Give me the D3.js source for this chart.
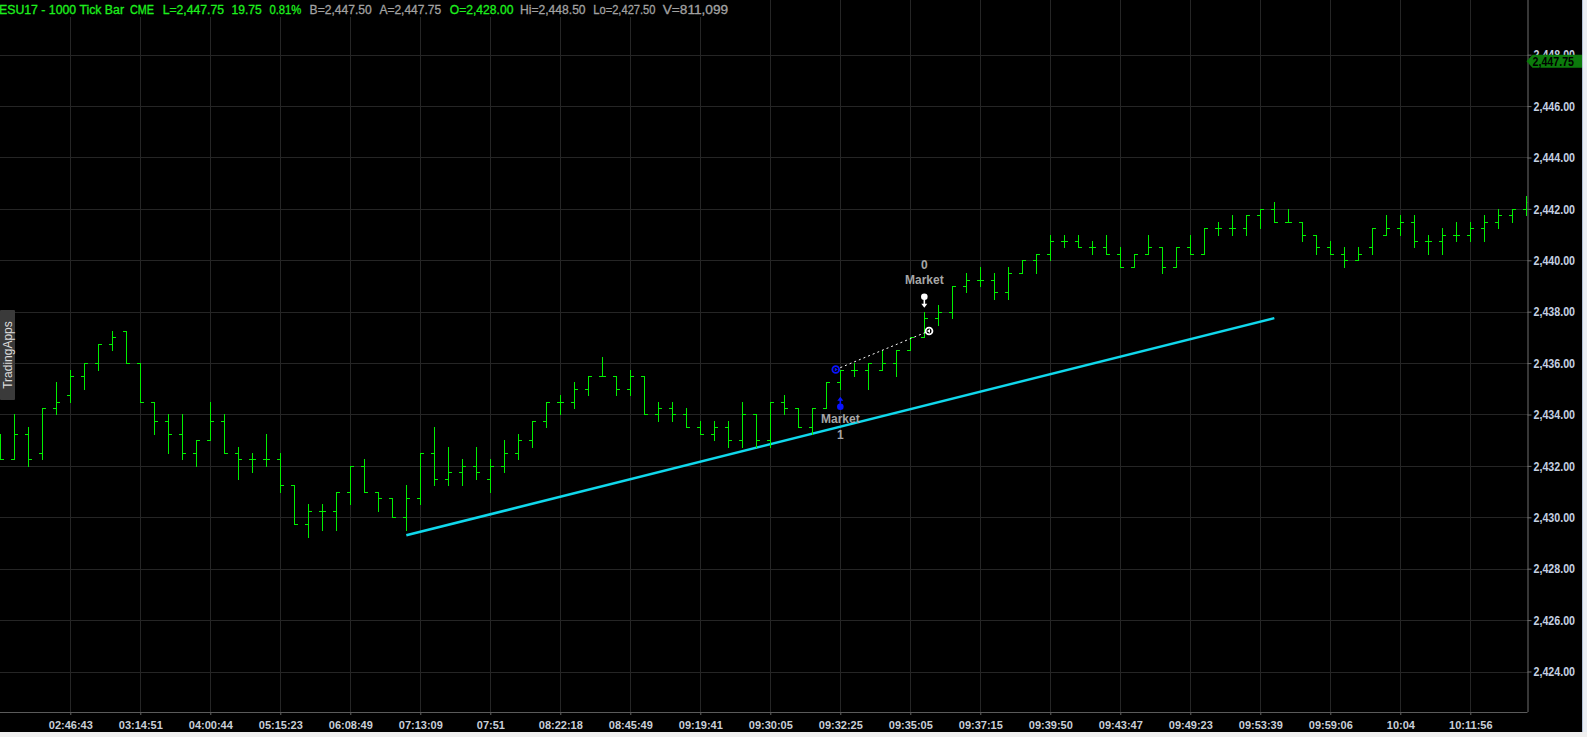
<!DOCTYPE html>
<html>
<head>
<meta charset="utf-8">
<script src="https://cdn.jsdelivr.net/npm/d3@7"></script>
<style>
  html, body { margin: 0; padding: 0; background: #000; overflow: hidden; }
  svg { display: block; font-family: "Liberation Sans", Arial, sans-serif; }
</style>
</head>
<body>
<div id="chart"></div>
<script>
// OHLC bars, one per 1000 ticks (left to right)
var opens = [2433.25, 2432.25, 2433.25, 2432.5, 2434.25, 2434.75, 2435.5, 2436.0, 2436.75, 2437.25,
  2436.0, 2434.5, 2433.75, 2433.25, 2432.5, 2433.0, 2433.75, 2432.5, 2432.25, 2432.25,
  2432.25, 2431.25, 2429.75, 2430.25, 2430.25, 2431.0, 2432.0, 2431.0, 2430.75, 2430.0,
  2430.75, 2432.5, 2431.5, 2431.75, 2432.0, 2431.5, 2432.0, 2432.5, 2433.0, 2433.75,
  2434.5, 2434.5, 2435.0, 2435.5, 2435.5, 2435.0, 2435.5, 2434.0, 2434.25, 2434.0,
  2433.5, 2433.25, 2433.5, 2433.0, 2434.0, 2433.0, 2434.5, 2434.25, 2433.5, 2434.25,
  2435.25, 2435.75, 2435.75, 2435.75, 2436.0, 2436.5, 2437.0, 2437.75, 2438.0, 2439.0,
  2439.25, 2439.25, 2438.75, 2439.5, 2440.0, 2440.25, 2440.75, 2440.75, 2440.5, 2440.5,
  2440.25, 2439.75, 2440.25, 2440.5, 2439.75, 2440.5, 2440.25, 2441.25, 2441.25, 2441.25,
  2441.75, 2442.0, 2441.5, 2441.5, 2441.0, 2440.5, 2440.25, 2440.0, 2440.5, 2441.0,
  2441.25, 2441.5, 2440.75, 2440.75, 2441.0, 2441.0, 2441.25, 2441.5, 2441.75, 2442.0];
var highs = [2433.25, 2434.0, 2433.5, 2434.25, 2435.25, 2435.75, 2436.0, 2436.75, 2437.25, 2437.25,
  2436.0, 2434.5, 2434.0, 2434.0, 2433.0, 2434.5, 2434.0, 2432.75, 2432.5, 2433.25,
  2432.5, 2431.25, 2430.5, 2430.5, 2431.0, 2432.0, 2432.25, 2431.0, 2430.75, 2431.25,
  2432.5, 2433.5, 2432.75, 2432.25, 2432.75, 2432.25, 2433.0, 2433.25, 2433.75, 2434.5,
  2434.75, 2435.25, 2435.5, 2436.25, 2435.5, 2435.75, 2435.5, 2434.5, 2434.5, 2434.25,
  2433.75, 2433.75, 2433.75, 2434.5, 2434.0, 2434.5, 2434.75, 2434.25, 2434.25, 2435.25,
  2435.75, 2436.0, 2436.0, 2436.5, 2436.5, 2437.0, 2438.0, 2438.25, 2439.0, 2439.5,
  2439.75, 2439.5, 2439.75, 2440.0, 2440.25, 2441.0, 2441.0, 2441.0, 2440.75, 2441.0,
  2440.5, 2440.25, 2441.0, 2440.5, 2440.5, 2441.0, 2441.25, 2441.5, 2441.75, 2441.75,
  2442.0, 2442.25, 2442.0, 2441.5, 2441.0, 2440.75, 2440.5, 2440.5, 2441.25, 2441.75,
  2441.75, 2441.75, 2441.0, 2441.25, 2441.5, 2441.5, 2441.75, 2442.0, 2442.0, 2442.5];
var lows = [2432.25, 2432.25, 2432.0, 2432.25, 2434.0, 2434.5, 2435.0, 2435.75, 2436.5, 2436.0,
  2434.5, 2433.25, 2432.5, 2432.25, 2432.0, 2433.0, 2432.5, 2431.5, 2431.75, 2432.0,
  2431.0, 2429.75, 2429.25, 2429.5, 2429.5, 2430.5, 2431.0, 2430.25, 2430.0, 2429.5,
  2430.5, 2431.25, 2431.25, 2431.25, 2431.5, 2431.0, 2431.75, 2432.25, 2432.75, 2433.5,
  2434.0, 2434.25, 2434.75, 2435.5, 2434.75, 2434.75, 2434.0, 2433.75, 2433.75, 2433.5,
  2433.25, 2433.0, 2432.75, 2432.75, 2432.75, 2432.75, 2434.0, 2433.5, 2433.25, 2434.25,
  2435.0, 2435.5, 2435.0, 2435.75, 2435.5, 2436.5, 2437.0, 2437.5, 2437.75, 2438.75,
  2439.0, 2438.5, 2438.5, 2439.5, 2439.5, 2440.0, 2440.5, 2440.5, 2440.25, 2440.25,
  2439.75, 2439.75, 2440.25, 2439.5, 2439.75, 2440.25, 2440.25, 2441.0, 2441.0, 2441.0,
  2441.25, 2441.5, 2441.5, 2440.75, 2440.25, 2440.25, 2439.75, 2440.0, 2440.25, 2441.0,
  2441.0, 2440.5, 2440.25, 2440.25, 2440.75, 2440.75, 2440.75, 2441.25, 2441.5, 2441.75];
var closes = [2432.25, 2433.25, 2432.25, 2434.25, 2434.5, 2435.5, 2436.0, 2436.75, 2437.0, 2436.0,
  2434.5, 2433.75, 2433.25, 2432.5, 2433.0, 2433.75, 2432.5, 2432.25, 2432.25, 2432.25,
  2431.25, 2429.75, 2430.25, 2430.25, 2431.0, 2432.0, 2431.0, 2430.75, 2430.0, 2430.75,
  2432.5, 2431.5, 2431.75, 2432.0, 2431.75, 2432.0, 2432.5, 2433.0, 2433.75, 2434.5,
  2434.5, 2435.0, 2435.5, 2435.5, 2435.0, 2435.5, 2434.0, 2434.25, 2434.0, 2433.5,
  2433.25, 2433.5, 2433.0, 2434.0, 2433.0, 2434.5, 2434.25, 2433.5, 2434.25, 2435.25,
  2435.75, 2435.75, 2436.0, 2436.0, 2436.5, 2437.0, 2437.75, 2438.0, 2439.0, 2439.25,
  2439.25, 2438.75, 2439.5, 2440.0, 2440.25, 2440.75, 2440.75, 2440.5, 2440.5, 2440.25,
  2439.75, 2440.25, 2440.5, 2439.75, 2440.5, 2440.25, 2441.25, 2441.25, 2441.25, 2441.75,
  2442.0, 2441.5, 2441.5, 2441.0, 2440.5, 2440.25, 2440.0, 2440.25, 2441.25, 2441.25,
  2441.5, 2440.75, 2440.75, 2441.0, 2441.0, 2441.25, 2441.5, 2441.75, 2442.0, 2442.25];

// time labels under every 5th bar
var timeTickBars = [5, 10, 15, 20, 25, 30, 35, 40, 45, 50, 55, 60, 65, 70, 75, 80, 85, 90, 95, 100, 105];
var timeTickLabels = ["02:46:43", "03:14:51", "04:00:44", "05:15:23", "06:08:49", "07:13:09", "07:51",
  "08:22:18", "08:45:49", "09:19:41", "09:30:05", "09:32:25", "09:35:05", "09:37:15", "09:39:50",
  "09:43:47", "09:49:23", "09:53:39", "09:59:06", "10:04", "10:11:56"];

var priceTicks = [2424, 2426, 2428, 2430, 2432, 2434, 2436, 2438, 2440, 2442, 2444, 2446, 2448];
var lastPrice = 2447.75;

// trend line end points (bar index, price)
var trendBars = [29, 91];
var trendPrices = [2429.3, 2437.75];

// trade markers
var tradeBars = [60, 66];
var tradePrices = [2435.75, 2437.25];
var tradeSides = ["buy", "sell"];
var tradeLabels = ["Market", "Market"];
var tradePositions = ["1", "0"];

// header quote strip
var headerTexts = ["ESU17 - 1000 Tick Bar", "CME", "L=2,447.75", "19.75", "0.81%", "B=2,447.50",
  "A=2,447.75", "O=2,428.00", "Hi=2,448.50", "Lo=2,427.50", "V=811,099"];
var headerGreen = [true, true, true, true, true, false, false, true, false, false, false];

var bars = opens.map(function (o, i) {
  return { i: i, open: o, high: highs[i], low: lows[i], close: closes[i] };
});

var width = 1587, height = 737;
var plotRight = 1527.5, axisY = 712;

var x = d3.scaleLinear().domain([0, 109]).range([0.33, 0.33 + 14 * 109]);
var y = d3.scaleLinear().domain([2424, 2448]).range([671.5, 54.7]);

// squeeze a text to a fraction of its natural width (narrow face look)
function condense(sel, k) {
  sel.each(function () {
    var w = this.getComputedTextLength();
    d3.select(this).attr("textLength", w * k).attr("lengthAdjust", "spacingAndGlyphs");
  });
}

var svg = d3.select("#chart").append("svg")
  .attr("width", width).attr("height", height);

svg.append("rect").attr("width", width).attr("height", height).attr("fill", "#000");

svg.append("defs").append("clipPath").attr("id", "plotclip")
  .append("rect").attr("x", 0).attr("y", 0).attr("width", plotRight).attr("height", axisY);

/* grid */
var grid = svg.append("g").attr("shape-rendering", "crispEdges");
grid.selectAll(".hgrid").data(priceTicks).join("line")
  .attr("x1", 0).attr("x2", plotRight)
  .attr("y1", d => Math.round(y(d)) + 0.5).attr("y2", d => Math.round(y(d)) + 0.5)
  .attr("stroke", "#252525");
grid.selectAll(".vgrid").data(timeTickBars).join("line")
  .attr("x1", d => Math.round(x(d)) + 0.5).attr("x2", d => Math.round(x(d)) + 0.5)
  .attr("y1", 0).attr("y2", axisY + 3)
  .attr("stroke", "#252525");

/* header strip */
var headerX = [-1, 130, 162.7, 231.6, 269.4, 309.6, 379.4, 449.8, 520, 593.3, 662.7];
var headerW = [125, 24, 61.3, 30.1, 32, 62.2, 61.7, 63.6, 65.6, 62.2, 65.5];
svg.append("rect").attr("x", 0).attr("y", 0).attr("width", 730).attr("height", 17).attr("fill", "#000");
svg.append("g").selectAll("text").data(headerTexts).join("text")
  .attr("x", (d, i) => headerX[i])
  .attr("y", 14)
  .attr("font-size", 12.5)
  .attr("textLength", (d, i) => headerW[i])
  .attr("lengthAdjust", "spacingAndGlyphs")
  .attr("fill", (d, i) => headerGreen[i] ? "#1ef01e" : "#a2a2a2")
  .attr("stroke", (d, i) => headerGreen[i] ? "#1ef01e" : "#a2a2a2")
  .attr("stroke-width", 0.3)
  .text(d => d);

/* trend line */
svg.append("line")
  .attr("x1", x(trendBars[0])).attr("y1", y(trendPrices[0]))
  .attr("x2", x(trendBars[1])).attr("y2", y(trendPrices[1]))
  .attr("stroke", "#10d8ec").attr("stroke-width", 2.5);

/* OHLC bars */
var ohlc = svg.append("g").attr("clip-path", "url(#plotclip)")
  .attr("stroke", "#00f000").attr("stroke-width", 1).attr("shape-rendering", "crispEdges");
var bar = ohlc.selectAll("g").data(bars).join("g");
bar.append("line")
  .attr("x1", d => Math.round(x(d.i)) + 0.5).attr("x2", d => Math.round(x(d.i)) + 0.5)
  .attr("y1", d => Math.round(y(d.high))).attr("y2", d => Math.round(y(d.low)) + 1);
bar.append("line")
  .attr("x1", d => Math.round(x(d.i)) - 3).attr("x2", d => Math.round(x(d.i)))
  .attr("y1", d => Math.round(y(d.open)) + 0.5).attr("y2", d => Math.round(y(d.open)) + 0.5);
bar.append("line")
  .attr("x1", d => Math.round(x(d.i)) + 1).attr("x2", d => Math.round(x(d.i)) + 4)
  .attr("y1", d => Math.round(y(d.close)) + 0.5).attr("y2", d => Math.round(y(d.close)) + 0.5);

/* trades */
var trades = tradeBars.map(function (b, i) {
  return { bar: b, price: tradePrices[i], side: tradeSides[i], label: tradeLabels[i], pos: tradePositions[i] };
});
var entry = trades[0], exit = trades[1];

svg.append("line")
  .attr("x1", x(entry.bar) - 4.6).attr("y1", y(entry.price))
  .attr("x2", x(exit.bar) + 4.7).attr("y2", y(exit.price))
  .attr("stroke", "#fff").attr("stroke-width", 1).attr("stroke-dasharray", "2,3");

trades.forEach(function (t) {
  var buy = t.side === "buy";
  var col = buy ? "#0a14ff" : "#ffffff";
  var cx = x(t.bar) + (buy ? -4.6 : 4.7), cy = y(t.price);
  svg.append("circle").attr("cx", cx).attr("cy", cy).attr("r", 3.4)
    .attr("fill", "#000").attr("stroke", col).attr("stroke-width", 1.8);
  var tri = buy ? [[cx - 1, cy - 2], [cx + 2, cy], [cx - 1, cy + 2]] : [[cx + 1, cy - 2], [cx - 2, cy], [cx + 1, cy + 2]];
  svg.append("path").attr("d", d3.line()(tri) + "Z").attr("fill", col);

  // pin marker with arrow, below low for buys, above high for sells
  var bx = x(t.bar);
  var b = bars[t.bar];
  var tip = buy ? y(b.low) + 8 : y(b.high) - 4;
  var head = buy ? y(b.low) + 18 : y(b.high) - 15;
  var dir = buy ? 1 : -1;
  svg.append("line").attr("x1", bx).attr("x2", bx)
    .attr("y1", tip + dir * 2).attr("y2", head)
    .attr("stroke", col).attr("stroke-width", 1.6);
  svg.append("path")
    .attr("d", d3.line()([[bx - 3, tip + dir * 4], [bx, tip], [bx + 3, tip + dir * 4]]) + "Z")
    .attr("fill", col);
  svg.append("circle").attr("cx", bx).attr("cy", head).attr("r", 3.3).attr("fill", col);

  var ly1 = buy ? y(b.low) + 34 : y(b.high) - 28;
  var ly2 = buy ? y(b.low) + 50 : y(b.high) - 43;
  svg.append("text").attr("x", bx).attr("y", ly1)
    .attr("text-anchor", "middle")
    .attr("font-weight", "bold").attr("font-size", 12).attr("fill", "#a6a6a6")
    .text(t.label);
  svg.append("text").attr("x", bx).attr("y", ly2)
    .attr("text-anchor", "middle")
    .attr("font-weight", "bold").attr("font-size", 12).attr("fill", "#a6a6a6")
    .text(t.pos);
});

/* TradingApps tab */
svg.append("rect").attr("x", 0).attr("y", 310).attr("width", 15).attr("height", 90)
  .attr("rx", 1).attr("fill", "#3a3a3a");
svg.append("text")
  .attr("transform", "translate(12,355) rotate(-90)")
  .attr("text-anchor", "middle")
  .attr("font-size", 12)
  .attr("fill", "#dcdcdc")
  .text("TradingApps");

/* axes */
var yAxis = d3.axisRight(y).tickValues(priceTicks).tickSize(4).tickPadding(2)
  .tickFormat(d3.format(",.2f"));
var gy = svg.append("g").attr("transform", `translate(${plotRight},0)`).call(yAxis);
gy.select(".domain").attr("stroke", "#6e6e6e").attr("d", `M0.5,0V${axisY}`);
gy.selectAll(".tick line").attr("stroke", "#6e6e6e");
gy.selectAll(".tick text")
  .attr("font-family", "Liberation Sans, Arial, sans-serif")
  .attr("font-size", 13).attr("font-weight", "bold")
  .attr("fill", "#c4d0e2")
  .call(condense, 0.82);

var xAxis = d3.axisBottom(x).tickValues(timeTickBars).tickSize(3).tickPadding(6)
  .tickFormat((d, i) => timeTickLabels[i]);
var gx = svg.append("g").attr("transform", `translate(0,${axisY})`).call(xAxis);
gx.select(".domain").attr("stroke", "#5a5a5a").attr("d", `M0,0.5H${plotRight}`);
gx.selectAll(".tick line").attr("stroke", "#5a5a5a");
gx.selectAll(".tick text")
  .attr("font-family", "Liberation Sans, Arial, sans-serif")
  .attr("font-size", 11).attr("font-weight", "bold")
  .attr("fill", "#c8cfd8");

/* last price tag */
var ty = y(lastPrice);
svg.append("path")
  .attr("d", d3.line()([[plotRight - 1, ty], [plotRight + 5, ty - 6.5], [1582, ty - 6.5], [1582, ty + 6.5], [plotRight + 5, ty + 6.5]]) + "Z")
  .attr("fill", "#0b7a0b");
svg.append("text")
  .attr("x", plotRight + 5).attr("y", ty + 4.5)
  .attr("font-size", 13).attr("font-weight", "bold").attr("fill", "#000")
  .text(d3.format(",.2f")(lastPrice))
  .call(condense, 0.82);

/* window edges */
svg.append("rect").attr("x", 1582).attr("y", 0).attr("width", 5).attr("height", height).attr("fill", "#e9edf3");
svg.append("line").attr("x1", 1582.5).attr("x2", 1582.5).attr("y1", 0).attr("y2", height).attr("stroke", "#b4c2d6");
svg.append("rect").attr("x", 0).attr("y", 732).attr("width", width).attr("height", 5).attr("fill", "#f0f0f0");
</script>
</body>
</html>
